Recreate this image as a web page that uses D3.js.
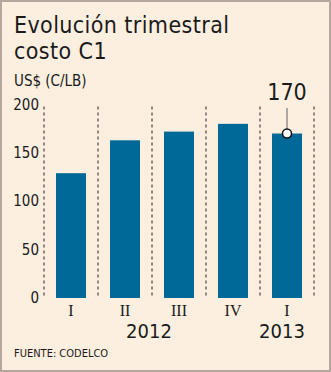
<!DOCTYPE html>
<html><head><meta charset="utf-8">
<script src="https://cdn.jsdelivr.net/npm/d3@7"></script>
<style>body{margin:0;background:#fff}svg{display:block}</style>
</head><body>
<script>
const categories = ["I","II","III","IV","I"];
const years = [{label:"2012", from:1, to:2}, {label:"2013", from:4, to:4}];
const values = [129, 163, 172, 180, 170];
const yTicks = [0, 50, 100, 150, 200];
const highlightIndex = 4;
const highlightLabel = "170";

const W = 331, H = 372;
const svg = d3.select("body").append("svg").attr("width", W).attr("height", H);
svg.append("rect").attr("x",1).attr("y",1).attr("width",W-2).attr("height",H-2)
  .attr("fill","#fcefdf").attr("stroke","#b5a69e").attr("stroke-width",2);

const sans = "Tahoma, 'DejaVu Sans Condensed', 'DejaVu Sans', sans-serif";
svg.append("text").attr("x",14).attr("y",33).text("Evolución trimestral")
  .attr("font-family",sans).attr("font-size",23).attr("letter-spacing",0.4).attr("fill","#1a1a1a");
svg.append("text").attr("x",14).attr("y",59).text("costo C1")
  .attr("font-family",sans).attr("font-size",23).attr("letter-spacing",0.4).attr("fill","#1a1a1a");
svg.append("text").attr("x",14).attr("y",86).text("US$ (C/LB)")
  .attr("font-family",sans).attr("font-size",15).attr("fill","#1a1a1a");

const x = d3.scaleBand().domain(d3.range(categories.length)).range([44,314]).paddingInner(0.444).paddingOuter(0.222);
const y = d3.scaleLinear().domain([0,200]).range([298,104.5]);

// separators
const step = x.step();
const seps = d3.range(categories.length+1).map(i => 44 + i*step);
svg.selectAll("line.sep").data(seps).join("line").attr("class","sep")
  .attr("x1",d=>d).attr("x2",d=>d).attr("y1",y(200)+2).attr("y2",y(0))
  .attr("stroke","#222").attr("stroke-width",1).attr("stroke-dasharray","3,3");

// y ticks
svg.selectAll("text.yt").data(yTicks).join("text").attr("class","yt")
  .attr("x",39).attr("y",d=>y(d)+5).attr("text-anchor","end").text(d=>d)
  .attr("font-family",sans).attr("font-size",15).attr("fill","#1a1a1a");

// bars
svg.selectAll("rect.bar").data(values).join("rect").attr("class","bar")
  .attr("x",(d,i)=>x(i)).attr("width",x.bandwidth())
  .attr("y",d=>y(d)).attr("height",d=>y(0)-y(d)).attr("fill","#006998");

// category labels
svg.selectAll("text.cat").data(categories).join("text").attr("class","cat")
  .attr("x",(d,i)=>x(i)+x.bandwidth()/2).attr("y",316).attr("text-anchor","middle").text(d=>d)
  .attr("font-family","'Liberation Serif', serif").attr("font-size",16).attr("fill","#1a1a1a");

// years
svg.selectAll("text.yr").data(years).join("text").attr("class","yr")
  .attr("x",d=>(x(d.from)+x(d.to)+x.bandwidth())/2 - (d.from===d.to?5:3)).attr("y",338).attr("text-anchor","middle").text(d=>d.label)
  .attr("font-family",sans).attr("font-size",20).attr("fill","#1a1a1a");

// highlight
const hx = x(highlightIndex)+x.bandwidth()/2;
const hy = y(values[highlightIndex]);
svg.append("line").attr("x1",hx).attr("x2",hx).attr("y1",108).attr("y2",hy)
  .attr("stroke","#777").attr("stroke-width",1.2);
svg.append("circle").attr("cx",hx).attr("cy",hy).attr("r",4.5)
  .attr("fill","#fff").attr("stroke","#111").attr("stroke-width",1.5);
svg.append("text").attr("x",hx).attr("y",100).attr("text-anchor","middle").text(highlightLabel)
  .attr("font-family",sans).attr("font-size",23).attr("fill","#1a1a1a");

svg.append("text").attr("x",14).attr("y",357).text("FUENTE: CODELCO")
  .attr("font-family",sans).attr("font-size",11).attr("fill","#1a1a1a");
</script>
</body></html>
